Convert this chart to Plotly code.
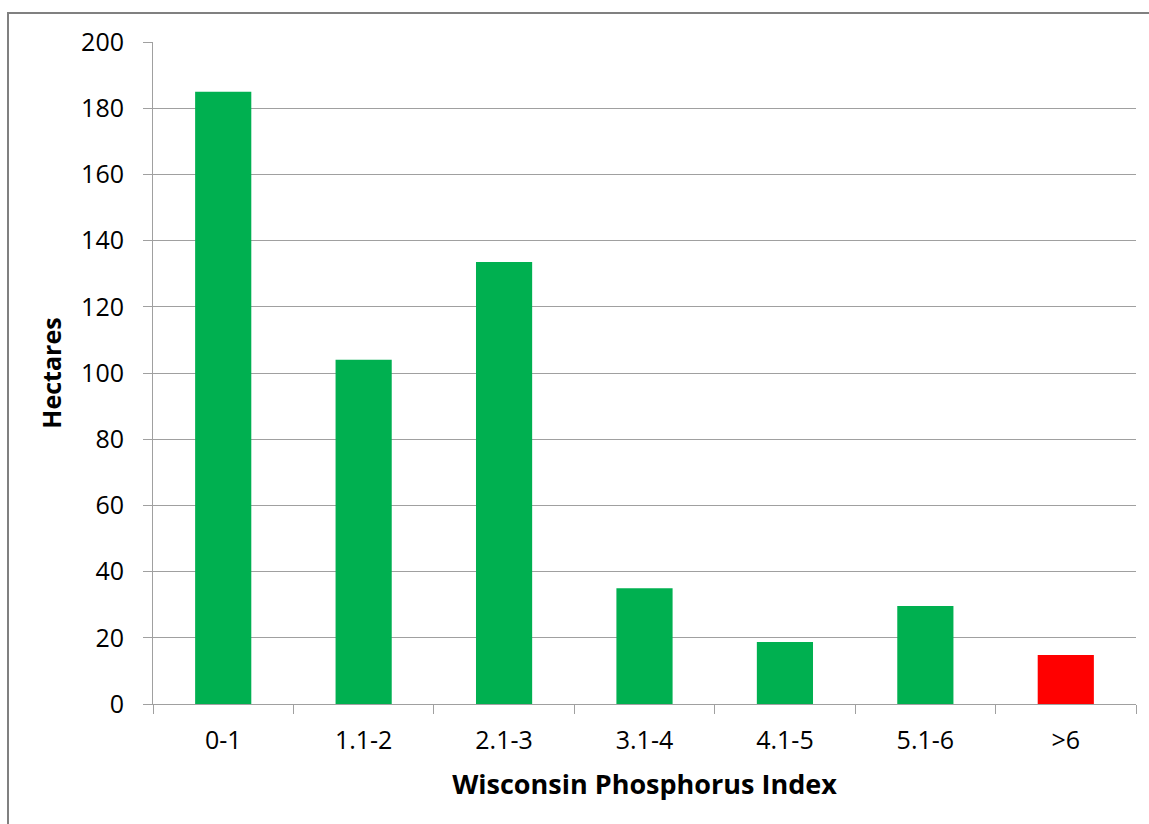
import plotly.graph_objects as go

categories = ["0-1", "1.1-2", "2.1-3", "3.1-4", "4.1-5", "5.1-6", ">6"]
hectares = [185, 104, 133.5, 35, 18.7, 29.6, 14.8]
bar_colors = ["#00B050", "#00B050", "#00B050", "#00B050", "#00B050", "#00B050", "#FF0000"]
y_ticks = [0, 20, 40, 60, 80, 100, 120, 140, 160, 180, 200]

W, H = 1149, 824
L, R, T, B = 153, 13, 42, 120
pw, ph = W - L - R, H - T - B

fig = go.Figure(go.Bar(x=categories, y=hectares, marker=dict(color=bar_colors, line=dict(width=0)), width=0.4))

font = "'Open Sans', Lato, sans-serif"
fig.update_layout(
    width=W, height=H,
    margin=dict(l=L, r=R, t=T, b=B),
    paper_bgcolor="white", plot_bgcolor="white",
    showlegend=False,
    font=dict(family=font, color="black"),
    xaxis=dict(
        type="category", tickson="boundaries", ticks="outside", ticklen=9, tickcolor="#A0A0A0",
        showline=True, linecolor="#A0A0A0", linewidth=1, showgrid=False,
        tickfont=dict(size=25, family=font), ticklabelstandoff=14,
        title=dict(text="<b>Wisconsin Phosphorus Index</b>", font=dict(size=27, family=font), standoff=20),
    ),
    yaxis=dict(
        range=[0, 200], tickvals=y_ticks, ticks="outside", ticklen=9, tickcolor="#A0A0A0",
        showline=True, linecolor="#A0A0A0", linewidth=1,
        showgrid=True, gridcolor="#A0A0A0", gridwidth=1, zeroline=False,
        tickfont=dict(size=25, family=font), ticklabelstandoff=14,
        title=dict(text="<b>Hectares</b>", font=dict(size=25, family=font), standoff=12),
    ),
    shapes=[dict(type="rect", xref="paper", yref="paper",
                 x0=(8 - L) / pw, x1=(W + 20 - L) / pw,
                 y0=-(H + 20 - T - ph) / ph, y1=(H - B - 13) / ph,
                 line=dict(color="#808080", width=2), fillcolor="rgba(0,0,0,0)", layer="below")],
)

fig.write_html("out.html", config={"displayModeBar": False},
               post_script="document.body.style.margin='0';document.body.style.overflow='hidden';")
